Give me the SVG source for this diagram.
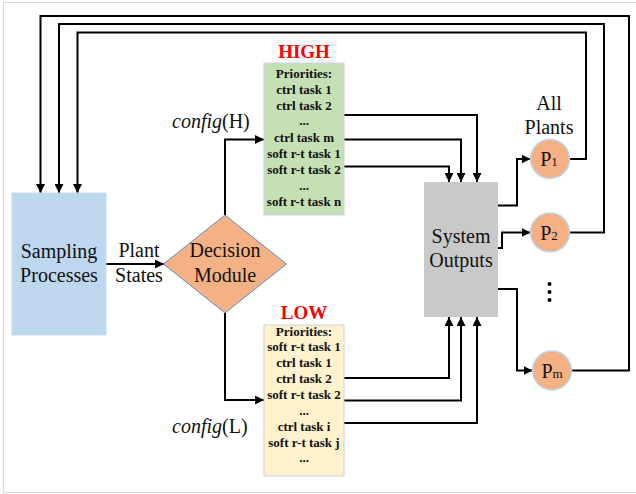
<svg xmlns="http://www.w3.org/2000/svg" width="636" height="494" viewBox="0 0 636 494">
<defs>
<marker id="arr" viewBox="0 0 10 10" refX="10" refY="5" markerWidth="4.5" markerHeight="4.5" orient="auto"><path d="M0,0 L10,5 L0,10 z" fill="#000"/></marker>
<style>
text{font-family:'Liberation Serif','DejaVu Serif',serif}
.t{font-size:20px;fill:#111;text-anchor:middle}
.b{font-size:13px;font-weight:bold;fill:#111;text-anchor:middle}
.d{font-size:13px;font-weight:bold;fill:#111;text-anchor:middle}
.h{font-size:19px;font-weight:bold;fill:#ff0000;text-anchor:middle}
.c{font-size:20px;fill:#111}
.ln{fill:none;stroke:#000;stroke-width:2;marker-end:url(#arr)}
.pc{fill:#f4b183;stroke:#bdd7ee;stroke-width:1.5}
</style>
</defs>
<rect x="3.5" y="2.5" width="640" height="490" fill="#fff" stroke="#d9d9d9" stroke-width="1"/>
<g id="connectors">
<path class="ln" d="M572,370.5 H629 V16 H40.5 V193"/>
<path class="ln" d="M570,232.5 H604 V24 H59 V193"/>
<path class="ln" d="M570,159 H586 V32.5 H77.5 V193"/>
<path class="ln" d="M106,264 H164"/>
<path class="ln" d="M225,215 V139.5 H264"/>
<path class="ln" d="M225,313 V400 H264"/>
<path class="ln" d="M344,115 H477 V182"/>
<path class="ln" d="M344,139.5 H461 V182"/>
<path class="ln" d="M344,166.5 H449 V182"/>
<path class="ln" d="M344,378 H449 V317"/>
<path class="ln" d="M344,400.5 H461 V317"/>
<path class="ln" d="M344,423 H477 V317"/>
<path class="ln" d="M498,205.5 H517 V159 H530.5"/>
<path class="ln" d="M498,248 H502 V232.5 H530.5"/>
<path class="ln" d="M498,289 H517 V370.5 H532.5"/>
</g>
<g id="sampling">
<rect x="12" y="193" width="94" height="142" fill="#bdd7ee" stroke="#c9d9ea" stroke-width="1"/>
<text class="t" x="59" y="258">Sampling</text>
<text class="t" x="59" y="282">Processes</text>
</g>
<g id="plant-states">
<text class="t" x="139" y="257">Plant</text>
<text class="t" x="139" y="282">States</text>
</g>
<g id="decision">
<polygon points="225,215 286.5,264 225,313 163.5,264" fill="#f4b183" stroke="#5b8fc7" stroke-width="1"/>
<text class="t" x="225" y="257">Decision</text>
<text class="t" x="225" y="282">Module</text>
</g>
<g id="config-h"><text class="c" x="172" y="128"><tspan font-style="italic">config</tspan>(H)</text></g>
<g id="config-l"><text class="c" x="172" y="433"><tspan font-style="italic">config</tspan>(L)</text></g>
<g id="high">
<text class="h" x="304" y="58">HIGH</text>
<rect x="264" y="63" width="80" height="152" fill="#c5e0b4" stroke="#c8d4de" stroke-width="1"/>
<text class="b" x="304" y="78">Priorities:</text>
<text class="b" x="304" y="94">ctrl task 1</text>
<text class="b" x="304" y="110">ctrl task 2</text>
<text class="d" x="304" y="125">...</text>
<text class="b" x="304" y="142">ctrl task m</text>
<text class="b" x="304" y="158">soft r-t task 1</text>
<text class="b" x="304" y="174">soft r-t task 2</text>
<text class="d" x="304" y="189.5">...</text>
<text class="b" x="304" y="206">soft r-t task n</text>
</g>
<g id="low">
<text class="h" x="304" y="319">LOW</text>
<rect x="264" y="325" width="80" height="151" fill="#fff2cc" stroke="#c8d4de" stroke-width="1"/>
<text class="b" x="304" y="336">Priorities:</text>
<text class="b" x="304" y="351">soft r-t task 1</text>
<text class="b" x="304" y="367">ctrl task 1</text>
<text class="b" x="304" y="383">ctrl task 2</text>
<text class="b" x="304" y="399">soft r-t task 2</text>
<text class="d" x="304" y="414.5">...</text>
<text class="b" x="304" y="431">ctrl task i</text>
<text class="b" x="304" y="447">soft r-t task j</text>
<text class="d" x="304" y="462">...</text>
</g>
<g id="system-outputs">
<rect x="424" y="182" width="74" height="135" fill="#c9c9c9"/>
<text class="t" x="461" y="243">System</text>
<text class="t" x="461" y="267">Outputs</text>
</g>
<g id="all-plants">
<text class="t" x="549" y="110">All</text>
<text class="t" x="549" y="134">Plants</text>
</g>
<g id="p1">
<circle class="pc" cx="550" cy="159" r="19.5"/>
<text class="t" x="549" y="166">P<tspan font-size="13">1</tspan></text>
</g>
<g id="p2">
<circle class="pc" cx="550" cy="232.5" r="19.5"/>
<text class="t" x="549" y="239.5">P<tspan font-size="13">2</tspan></text>
</g>
<g id="dots">
<circle cx="549.5" cy="284" r="2"/>
<circle cx="549.5" cy="292" r="2"/>
<circle cx="549.5" cy="300" r="2"/>
</g>
<g id="pm">
<circle class="pc" cx="552" cy="370.5" r="19.5"/>
<text class="t" x="552" y="377.5">P<tspan font-size="13">m</tspan></text>
</g>
</svg>
